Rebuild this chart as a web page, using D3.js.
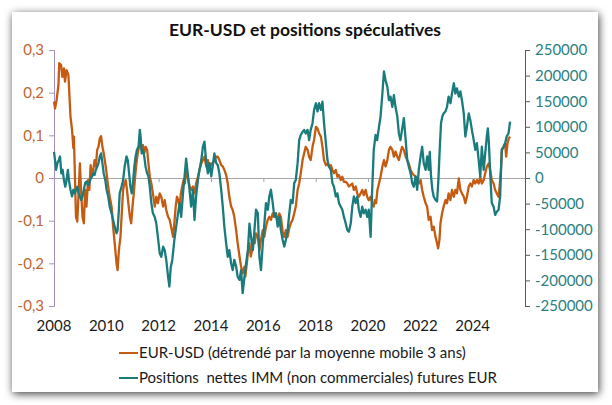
<!DOCTYPE html>
<html>
<head>
<meta charset="utf-8">
<script src="https://cdn.jsdelivr.net/npm/d3@7"></script>
<style>
  body { margin: 0; background: #fff; }
  svg { display: block; }
  text { font-family: Lato, "Open Sans", sans-serif; }
</style>
</head>
<body>
<div id="wrapper"></div>
<script>
// chart text
const title = "EUR-USD et positions spéculatives"
const legendLabels = [
  "EUR-USD (détrendé par la moyenne mobile 3 ans)",
  "Positions  nettes IMM (non commerciales) futures EUR",
]
const yearTicks = [2008, 2010, 2012, 2014, 2016, 2018, 2020, 2022, 2024]
const leftTicks = [-0.3, -0.2, -0.1, 0, 0.1, 0.2, 0.3]
const rightTicks = [-250000, -200000, -150000, -100000, -50000, 0, 50000, 100000, 150000, 200000, 250000]

// EUR-USD detrended, [decimal year, value]
const eurUsd = [
  [2008.00,0.179],[2008.04,0.163],[2008.10,0.183],[2008.17,0.218],[2008.20,0.269],[2008.27,0.265],
  [2008.32,0.237],[2008.38,0.257],[2008.42,0.226],[2008.48,0.253],[2008.55,0.241],[2008.58,0.206],
  [2008.63,0.144],[2008.69,0.113],[2008.74,0.070],[2008.76,0.097],[2008.80,0.003],[2008.84,-0.091],
  [2008.89,-0.102],[2008.94,-0.036],[2008.99,0.034],[2009.04,-0.036],[2009.09,-0.091],[2009.14,-0.106],
  [2009.19,-0.028],[2009.24,-0.067],[2009.30,-0.005],[2009.35,-0.028],[2009.40,0.030],[2009.45,0.003],
  [2009.50,0.019],[2009.55,0.042],[2009.60,0.027],[2009.65,0.066],[2009.70,0.073],[2009.75,0.093],
  [2009.80,0.098],[2009.85,0.073],[2009.90,0.058],[2009.96,0.034],[2010.01,0.011],[2010.07,-0.020],
  [2010.13,-0.044],[2010.20,-0.067],[2010.26,-0.114],[2010.32,-0.153],[2010.39,-0.200],[2010.43,-0.216],
  [2010.48,-0.169],[2010.54,-0.138],[2010.59,-0.083],[2010.64,-0.028],[2010.69,-0.013],[2010.74,-0.005],
  [2010.79,-0.028],[2010.84,-0.059],[2010.90,-0.091],[2010.95,-0.106],[2011.00,-0.067],[2011.05,-0.036],
  [2011.10,0.003],[2011.15,0.034],[2011.20,0.058],[2011.25,0.073],[2011.30,0.081],[2011.35,0.066],
  [2011.40,0.077],[2011.45,0.058],[2011.50,0.073],[2011.56,0.066],[2011.61,0.034],[2011.66,0.003],
  [2011.72,-0.013],[2011.78,-0.036],[2011.85,-0.067],[2011.91,-0.044],[2011.97,-0.059],[2012.04,-0.036],
  [2012.10,-0.044],[2012.17,-0.067],[2012.23,-0.052],[2012.29,-0.075],[2012.36,-0.091],[2012.42,-0.098],
  [2012.50,-0.122],[2012.55,-0.138],[2012.60,-0.106],[2012.65,-0.067],[2012.70,-0.044],[2012.75,-0.052],
  [2012.80,-0.067],[2012.85,-0.036],[2012.90,-0.020],[2012.95,-0.005],[2013.00,-0.013],[2013.05,0.019],
  [2013.11,0.003],[2013.18,-0.020],[2013.24,-0.028],[2013.31,-0.020],[2013.37,-0.036],[2013.43,-0.013],
  [2013.50,0.003],[2013.56,0.019],[2013.63,0.034],[2013.69,0.042],[2013.75,0.050],[2013.82,0.027],
  [2013.88,0.042],[2013.94,0.019],[2014.01,0.034],[2014.07,0.034],[2014.13,0.042],[2014.20,0.050],
  [2014.26,0.050],[2014.32,0.042],[2014.39,0.030],[2014.45,0.027],[2014.51,0.019],[2014.58,0.007],
  [2014.64,-0.013],[2014.70,-0.044],[2014.77,-0.067],[2014.83,-0.075],[2014.89,-0.091],[2014.96,-0.122],
  [2015.02,-0.153],[2015.09,-0.184],[2015.15,-0.208],[2015.21,-0.223],[2015.28,-0.208],[2015.31,-0.231],
  [2015.37,-0.200],[2015.42,-0.169],[2015.47,-0.153],[2015.52,-0.184],[2015.57,-0.169],[2015.62,-0.145],
  [2015.67,-0.153],[2015.72,-0.130],[2015.79,-0.138],[2015.85,-0.169],[2015.91,-0.145],[2015.98,-0.122],
  [2016.04,-0.138],[2016.10,-0.114],[2016.17,-0.098],[2016.23,-0.091],[2016.29,-0.098],[2016.36,-0.083],
  [2016.42,-0.091],[2016.48,-0.083],[2016.55,-0.106],[2016.61,-0.083],[2016.67,-0.091],[2016.74,-0.126],
  [2016.80,-0.138],[2016.86,-0.122],[2016.93,-0.138],[2016.99,-0.118],[2017.05,-0.106],[2017.12,-0.098],
  [2017.18,-0.083],[2017.24,-0.067],[2017.31,-0.028],[2017.37,-0.013],[2017.43,0.011],[2017.50,0.042],
  [2017.56,0.058],[2017.62,0.073],[2017.69,0.066],[2017.75,0.050],[2017.81,0.042],[2017.88,0.073],
  [2017.94,0.089],[2018.01,0.120],[2018.07,0.116],[2018.13,0.105],[2018.20,0.097],[2018.26,0.073],
  [2018.32,0.042],[2018.39,0.030],[2018.45,0.034],[2018.51,0.027],[2018.58,0.030],[2018.64,0.019],
  [2018.70,0.011],[2018.77,0.019],[2018.83,0.003],[2018.89,0.007],[2018.96,-0.005],[2019.02,0.003],
  [2019.08,-0.009],[2019.15,-0.009],[2019.21,-0.013],[2019.27,-0.020],[2019.34,-0.016],[2019.40,-0.013],
  [2019.46,-0.028],[2019.53,-0.020],[2019.59,-0.036],[2019.65,-0.044],[2019.72,-0.036],[2019.78,-0.028],
  [2019.84,-0.040],[2019.91,-0.028],[2019.97,-0.044],[2020.03,-0.052],[2020.10,-0.044],[2020.16,-0.059],
  [2020.22,-0.067],[2020.26,-0.052],[2020.31,-0.059],[2020.36,-0.028],[2020.42,-0.013],[2020.48,0.003],
  [2020.55,0.027],[2020.61,0.042],[2020.67,0.027],[2020.74,0.042],[2020.80,0.066],[2020.86,0.073],
  [2020.93,0.066],[2020.99,0.050],[2021.05,0.062],[2021.12,0.050],[2021.18,0.042],[2021.24,0.058],
  [2021.30,0.073],[2021.37,0.066],[2021.44,0.050],[2021.50,0.042],[2021.56,0.034],[2021.63,0.019],
  [2021.69,0.011],[2021.75,0.007],[2021.82,0.003],[2021.88,-0.009],[2021.94,-0.013],[2022.01,-0.005],
  [2022.07,-0.028],[2022.13,-0.044],[2022.20,-0.059],[2022.26,-0.067],[2022.32,-0.098],[2022.39,-0.091],
  [2022.45,-0.122],[2022.51,-0.114],[2022.58,-0.138],[2022.64,-0.153],[2022.68,-0.165],[2022.73,-0.145],
  [2022.77,-0.106],[2022.83,-0.083],[2022.89,-0.067],[2022.96,-0.052],[2023.02,-0.059],[2023.08,-0.036],
  [2023.15,-0.052],[2023.21,-0.028],[2023.28,-0.044],[2023.34,-0.028],[2023.40,-0.036],[2023.47,-0.001],
  [2023.53,-0.028],[2023.59,-0.036],[2023.66,-0.044],[2023.72,-0.059],[2023.78,-0.044],[2023.85,-0.020],
  [2023.91,-0.013],[2023.97,-0.020],[2024.04,-0.005],[2024.10,-0.013],[2024.16,-0.005],[2024.23,-0.013],
  [2024.29,0.003],[2024.35,-0.013],[2024.42,-0.005],[2024.48,0.011],[2024.54,0.027],[2024.61,0.034],
  [2024.67,0.019],[2024.73,-0.005],[2024.80,-0.013],[2024.86,-0.028],[2024.92,-0.036],[2024.99,-0.044],
  [2025.03,-0.020],[2025.08,0.019],[2025.12,0.066],[2025.18,0.073],[2025.24,0.081],[2025.28,0.050],
  [2025.33,0.081],[2025.38,0.093],[2025.43,0.097],
]

// IMM net non-commercial EUR futures positions (contracts), [decimal year, value]
const immPositions = [
  [2008.00,51000],[2008.04,35000],[2008.08,16000],[2008.13,29000],[2008.18,35000],[2008.23,42000],
  [2008.28,9000],[2008.33,16000],[2008.38,-4000],[2008.43,-17000],[2008.48,-4000],[2008.53,16000],
  [2008.58,-7000],[2008.63,-23000],[2008.69,-36000],[2008.74,-23000],[2008.79,-30000],[2008.84,-23000],
  [2008.89,-17000],[2008.94,-30000],[2008.99,-36000],[2009.04,-43000],[2009.09,-36000],[2009.14,-23000],
  [2009.19,-10000],[2009.24,-7000],[2009.30,-14000],[2009.35,-10000],[2009.40,-1000],[2009.45,3000],
  [2009.50,9000],[2009.55,6000],[2009.60,16000],[2009.65,22000],[2009.70,29000],[2009.75,42000],
  [2009.80,48000],[2009.85,29000],[2009.90,9000],[2009.96,-4000],[2010.01,-23000],[2010.07,-36000],
  [2010.13,-56000],[2010.20,-69000],[2010.26,-82000],[2010.32,-95000],[2010.39,-108000],[2010.43,-102000],
  [2010.48,-62000],[2010.51,-30000],[2010.58,-17000],[2010.64,-4000],[2010.70,22000],[2010.77,42000],
  [2010.82,35000],[2010.87,9000],[2010.92,-17000],[2010.97,-30000],[2011.02,-10000],[2011.07,22000],
  [2011.12,42000],[2011.17,55000],[2011.23,61000],[2011.28,94000],[2011.31,81000],[2011.35,48000],
  [2011.40,55000],[2011.45,42000],[2011.50,22000],[2011.56,9000],[2011.61,3000],[2011.66,-17000],
  [2011.72,-49000],[2011.78,-69000],[2011.85,-76000],[2011.91,-89000],[2011.97,-115000],[2012.04,-147000],
  [2012.10,-154000],[2012.17,-134000],[2012.23,-141000],[2012.29,-160000],[2012.36,-193000],[2012.41,-212000],
  [2012.46,-175000],[2012.52,-160000],[2012.60,-121000],[2012.67,-95000],[2012.74,-69000],[2012.80,-49000],
  [2012.86,-76000],[2012.93,-30000],[2012.99,3000],[2013.05,38000],[2013.11,9000],[2013.18,-23000],
  [2013.24,-56000],[2013.31,-23000],[2013.37,-82000],[2013.43,-36000],[2013.50,-4000],[2013.56,16000],
  [2013.63,35000],[2013.69,61000],[2013.75,71000],[2013.82,29000],[2013.88,9000],[2013.94,29000],
  [2014.01,3000],[2014.07,25000],[2014.13,48000],[2014.20,29000],[2014.26,25000],[2014.32,9000],
  [2014.39,-23000],[2014.45,-56000],[2014.51,-95000],[2014.58,-128000],[2014.64,-154000],[2014.70,-141000],
  [2014.77,-167000],[2014.83,-180000],[2014.89,-160000],[2014.96,-173000],[2015.02,-193000],[2015.09,-199000],
  [2015.15,-180000],[2015.21,-225000],[2015.28,-193000],[2015.34,-167000],[2015.41,-141000],[2015.47,-89000],
  [2015.53,-115000],[2015.60,-141000],[2015.66,-102000],[2015.72,-62000],[2015.79,-69000],[2015.85,-154000],
  [2015.91,-180000],[2015.98,-128000],[2016.04,-89000],[2016.10,-49000],[2016.17,-62000],[2016.23,-36000],
  [2016.29,-23000],[2016.36,-49000],[2016.42,-76000],[2016.48,-69000],[2016.55,-95000],[2016.61,-76000],
  [2016.67,-102000],[2016.74,-121000],[2016.80,-134000],[2016.86,-121000],[2016.93,-102000],[2016.99,-70000],
  [2017.05,-43000],[2017.12,-49000],[2017.18,-10000],[2017.24,-4000],[2017.31,29000],[2017.37,74000],
  [2017.43,84000],[2017.50,90000],[2017.56,94000],[2017.62,87000],[2017.69,94000],[2017.75,74000],
  [2017.81,94000],[2017.88,107000],[2017.94,133000],[2018.01,146000],[2018.07,130000],[2018.13,146000],
  [2018.20,133000],[2018.26,149000],[2018.32,107000],[2018.39,68000],[2018.45,35000],[2018.51,22000],
  [2018.58,16000],[2018.64,-10000],[2018.70,-17000],[2018.77,-36000],[2018.83,-30000],[2018.89,-49000],
  [2018.96,-56000],[2019.02,-62000],[2019.08,-76000],[2019.15,-89000],[2019.21,-102000],[2019.27,-105000],
  [2019.34,-89000],[2019.40,-56000],[2019.46,-36000],[2019.53,-49000],[2019.59,-36000],[2019.65,-62000],
  [2019.72,-76000],[2019.78,-56000],[2019.84,-69000],[2019.91,-62000],[2019.97,-76000],[2020.03,-62000],
  [2020.10,-115000],[2020.16,-23000],[2020.22,55000],[2020.29,84000],[2020.35,74000],[2020.42,100000],
  [2020.48,120000],[2020.55,165000],[2020.61,208000],[2020.67,191000],[2020.74,178000],[2020.80,152000],
  [2020.86,159000],[2020.93,139000],[2020.99,162000],[2021.05,139000],[2021.12,120000],[2021.18,87000],
  [2021.24,74000],[2021.30,94000],[2021.37,117000],[2021.44,74000],[2021.50,35000],[2021.56,22000],
  [2021.63,9000],[2021.69,-10000],[2021.75,-17000],[2021.82,3000],[2021.88,-23000],[2021.94,16000],
  [2022.01,42000],[2022.07,61000],[2022.13,29000],[2022.20,16000],[2022.26,42000],[2022.32,16000],
  [2022.36,51000],[2022.41,3000],[2022.46,-23000],[2022.51,-36000],[2022.58,-43000],[2022.64,-46000],
  [2022.69,-4000],[2022.74,55000],[2022.79,107000],[2022.84,120000],[2022.89,126000],[2022.96,130000],
  [2023.02,139000],[2023.08,159000],[2023.15,146000],[2023.21,165000],[2023.28,185000],[2023.34,165000],
  [2023.40,175000],[2023.47,159000],[2023.53,169000],[2023.59,152000],[2023.66,126000],[2023.72,81000],
  [2023.78,100000],[2023.85,126000],[2023.91,113000],[2023.97,94000],[2024.04,74000],[2024.10,55000],
  [2024.16,68000],[2024.23,35000],[2024.29,3000],[2024.35,61000],[2024.42,16000],[2024.48,48000],
  [2024.54,81000],[2024.58,97000],[2024.62,68000],[2024.67,9000],[2024.73,-49000],[2024.80,-56000],
  [2024.86,-72000],[2024.92,-66000],[2024.99,-62000],[2025.05,-36000],[2025.11,55000],[2025.18,61000],
  [2025.24,68000],[2025.30,81000],[2025.37,87000],[2025.43,110000],
]

const orange = "#c55a11"
const teal = "#1a7b7d"

const dimensions = {
  width: 612,
  height: 405,
  card: { x: 12, y: 12, width: 586, height: 380 },
  plot: { left: 54, right: 525, top: 50, bottom: 306 },
}

const svg = d3.select("#wrapper")
  .append("svg")
    .attr("width", dimensions.width)
    .attr("height", dimensions.height)

// card with soft shadow
const defs = svg.append("defs")
defs.append("filter")
    .attr("id", "shadow")
    .attr("x", "-10%").attr("y", "-10%")
    .attr("width", "120%").attr("height", "120%")
  .append("feDropShadow")
    .attr("dx", 1)
    .attr("dy", 2)
    .attr("stdDeviation", 4.5)
    .attr("flood-color", "#000")
    .attr("flood-opacity", 0.75)

svg.append("rect")
    .attr("x", dimensions.card.x)
    .attr("y", dimensions.card.y)
    .attr("width", dimensions.card.width)
    .attr("height", dimensions.card.height)
    .attr("fill", "#fff")
    .attr("filter", "url(#shadow)")

// scales
const xScale = d3.scaleLinear()
  .domain([2008, 2026])
  .range([dimensions.plot.left, dimensions.plot.right])

const yLeft = d3.scaleLinear()
  .domain([-0.3, 0.3])
  .range([dimensions.plot.bottom, dimensions.plot.top])

const yRight = d3.scaleLinear()
  .domain([-250000, 250000])
  .range([dimensions.plot.bottom, dimensions.plot.top])

// zero line with small year ticks
const zeroAxis = svg.append("g")
    .attr("transform", `translate(0, ${yLeft(0)})`)
  .call(d3.axisBottom(xScale).tickValues(yearTicks).tickSize(4).tickSizeOuter(0).tickFormat(""))
zeroAxis.selectAll("path, line").attr("stroke", "#a6a6a6")

// year labels along the bottom
svg.append("g")
  .selectAll("text")
  .data(yearTicks)
  .join("text")
    .attr("x", d => xScale(d))
    .attr("y", 331)
    .attr("text-anchor", "middle")
    .attr("font-size", 15)
    .attr("fill", "#1a1a1a")
    .text(d => d)

// left axis
const leftAxis = svg.append("g")
    .attr("transform", `translate(${dimensions.plot.left}, 0)`)
  .call(d3.axisLeft(yLeft)
    .tickValues(leftTicks)
    .tickSize(5)
    .tickPadding(5)
    .tickFormat(d => String(+d.toFixed(1)).replace(".", ",")))
leftAxis.selectAll("path, line").attr("stroke", "#a58fbf")
leftAxis.selectAll("text")
    .attr("font-size", 15)
    .attr("font-family", "Lato, sans-serif")
    .attr("fill", "#c0652f")

// right axis
const rightAxis = svg.append("g")
    .attr("transform", `translate(${dimensions.plot.right}, 0)`)
  .call(d3.axisRight(yRight)
    .tickValues(rightTicks)
    .tickSize(5)
    .tickPadding(5)
    .tickFormat(d => String(d)))
rightAxis.selectAll("path, line").attr("stroke", "#595959")
rightAxis.selectAll("text")
    .attr("font-size", 15)
    .attr("font-family", "Lato, sans-serif")
    .attr("fill", "#2b7f80")

// lines
const eurLine = d3.line()
  .x(d => xScale(d[0]))
  .y(d => yLeft(d[1]))

const immLine = d3.line()
  .x(d => xScale(d[0]))
  .y(d => yRight(d[1]))

svg.append("path")
    .attr("d", eurLine(eurUsd))
    .attr("fill", "none")
    .attr("stroke", orange)
    .attr("stroke-width", 2.3)
    .attr("stroke-linejoin", "round")

svg.append("path")
    .attr("d", immLine(immPositions))
    .attr("fill", "none")
    .attr("stroke", teal)
    .attr("stroke-width", 2.3)
    .attr("stroke-linejoin", "round")

// title
svg.append("text")
    .attr("x", 305)
    .attr("y", 36)
    .attr("text-anchor", "middle")
    .attr("font-size", 17.5)
    .attr("font-weight", "bold")
    .attr("fill", "#111")
    .text(title)

// legend
const legend = svg.append("g")
  .selectAll("g")
  .data(legendLabels)
  .join("g")
    .attr("transform", (d, i) => `translate(119, ${353 + i * 25})`)

legend.append("line")
    .attr("x1", 0).attr("x2", 19)
    .attr("y1", 0).attr("y2", 0)
    .attr("stroke", (d, i) => i === 0 ? orange : teal)
    .attr("stroke-width", 2)

legend.append("text")
    .attr("x", 20)
    .attr("y", 5)
    .attr("font-size", 15)
    .attr("fill", "#1a1a1a")
    .style("white-space", "pre")
    .text(d => d)
</script>
</body>
</html>
